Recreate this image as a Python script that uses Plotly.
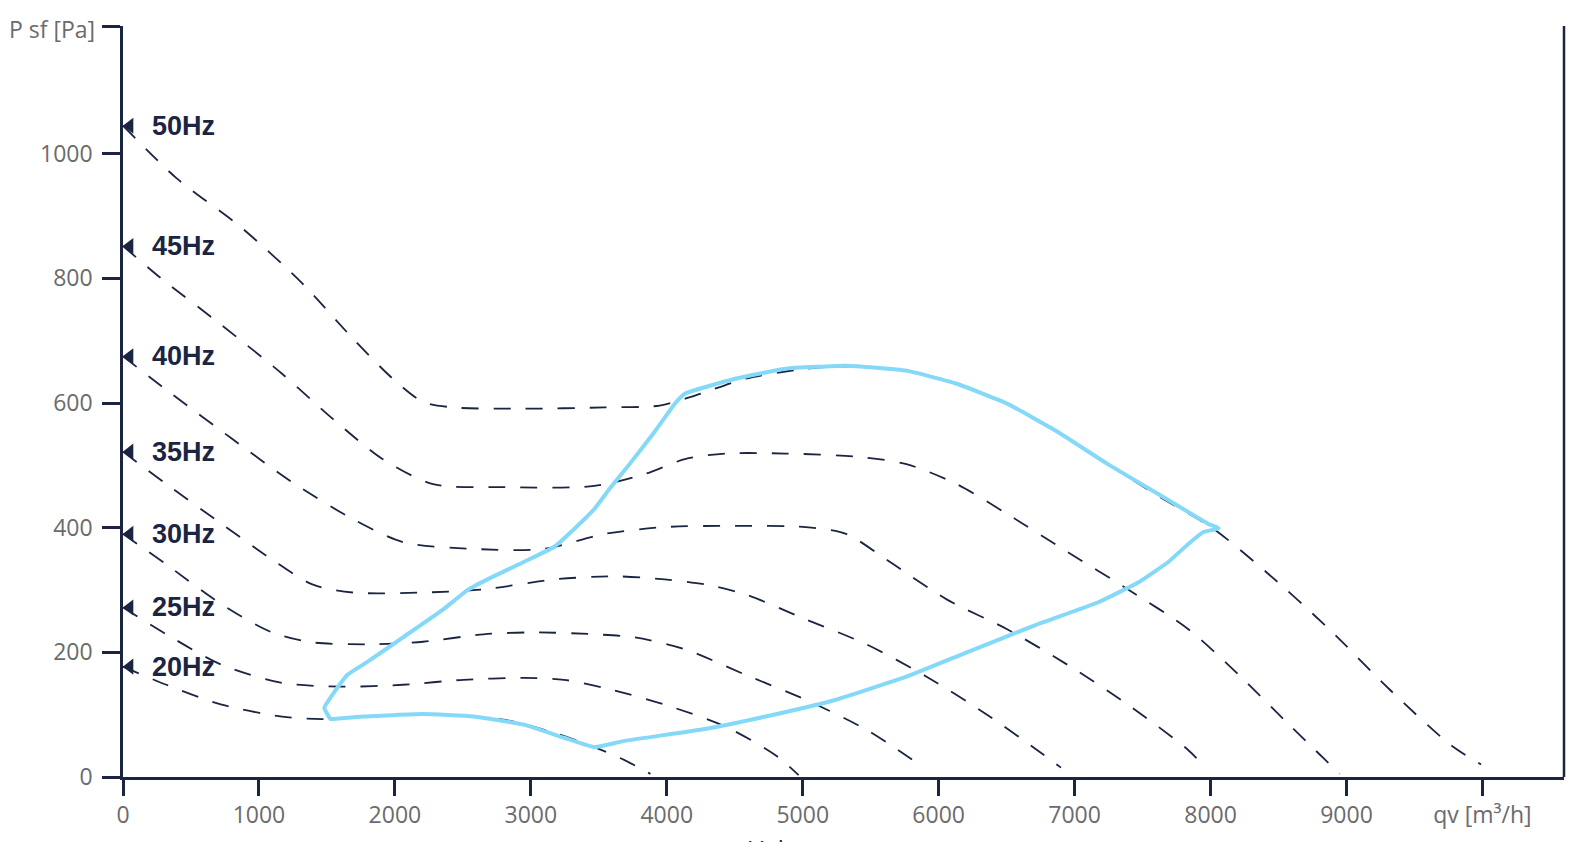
import plotly.graph_objects as go

NAVY = "#1b2541"
BLUE = "#84d9f9"
GREY = "#6b6b6b"

# Kennlinien je Frequenz (qv in m3/h, P sf in Pa)
freqs = ["50Hz", "45Hz", "40Hz", "35Hz", "30Hz", "25Hz", "20Hz"]
start_p = [1045, 852, 675, 522, 390, 272, 177]

qv_50 = [0, 393, 874, 1319, 1689, 1985, 2207, 2430, 2948, 3541, 3948, 4207, 4578, 5022, 5393, 5763, 6133, 6504, 6874, 7244, 7615, 8022, 8430, 8874, 9319, 9763, 9990]
p_50 = [1045, 961, 881, 792, 704, 639, 602, 593, 591, 593, 596, 612, 639, 655, 659, 652, 631, 599, 554, 502, 451, 398, 325, 237, 140, 52, 20]

qv_45 = [0, 281, 726, 1170, 1541, 1911, 2281, 2800, 3467, 3837, 4133, 4430, 4874, 5393, 5763, 6133, 6504, 6948, 7393, 7837, 8207, 8578, 8950]
p_45 = [852, 800, 725, 647, 575, 510, 470, 465, 467, 486, 510, 519, 519, 514, 502, 470, 422, 361, 301, 237, 164, 84, 5]

qv_40 = [0, 356, 800, 1244, 1689, 2059, 2578, 3096, 3541, 3985, 4504, 5022, 5319, 5615, 6059, 6504, 6948, 7393, 7837, 7950]
p_40 = [675, 615, 543, 473, 414, 377, 366, 366, 390, 401, 403, 401, 390, 349, 285, 237, 180, 116, 43, 18]

qv_35 = [0, 319, 726, 1096, 1393, 1689, 2207, 2652, 3170, 3615, 3985, 4281, 4578, 5022, 5467, 5911, 6356, 6726, 6900]
p_35 = [522, 470, 406, 349, 309, 296, 296, 301, 317, 322, 317, 309, 293, 253, 213, 161, 100, 43, 15]

qv_30 = [0, 319, 726, 1096, 1393, 1837, 2207, 2652, 3022, 3467, 3763, 4133, 4578, 5022, 5467, 5870]
p_30 = [390, 341, 277, 232, 216, 213, 217, 229, 232, 229, 224, 205, 164, 124, 76, 18]

qv_25 = [0, 319, 726, 1170, 1615, 2059, 2504, 2948, 3244, 3541, 3985, 4430, 4800, 4970]
p_25 = [272, 229, 180, 151, 145, 148, 156, 159, 156, 143, 116, 81, 35, 3]

qv_20 = [0, 319, 726, 1170, 1467, 1985, 2356, 2800, 3170, 3467, 3689, 3880]
p_20 = [177, 148, 116, 97, 93, 100, 100, 92, 71, 48, 27, 5]

curves = [(qv_50, p_50), (qv_45, p_45), (qv_40, p_40), (qv_35, p_35),
          (qv_30, p_30), (qv_25, p_25), (qv_20, p_20)]

# Arbeitsbereich (geschlossene Kurve)
qv_env = [1541, 1763, 2207, 2578, 2948, 3244, 3467, 3689, 4281, 4726, 5244, 5763, 6207, 6726, 7170, 7467, 7689, 7837, 7948, 8059,
          7985, 7615, 7244, 6874, 6504, 6133, 5763, 5319, 4874, 4504, 4133, 4059, 3911, 3726, 3578, 3467, 3319, 3170, 2948, 2726,
          2541, 2356, 2059, 1800, 1652, 1541, 1481, 1526, 1541]
p_env = [93, 97, 101, 97, 84, 63, 48, 58, 77, 97, 124, 161, 200, 245, 280, 312, 345, 374, 393, 399,
         406, 454, 502, 554, 599, 631, 652, 660, 655, 639, 615, 599, 554, 502, 462, 430, 398, 369, 345, 322,
         301, 269, 224, 185, 164, 132, 111, 93, 93]

x_ticks = [0, 1000, 2000, 3000, 4000, 5000, 6000, 7000, 8000, 9000, 10000]
x_labels = ["0", "1000", "2000", "3000", "4000", "5000", "6000", "7000", "8000", "9000", "qv [m\u00b3/h]"]
y_ticks = [0, 200, 400, 600, 800, 1000, 1205]
y_labels = ["0", "200", "400", "600", "800", "1000", ""]
y_title = "P sf [Pa]"

fig = go.Figure()

for qv, p in curves:
    fig.add_trace(go.Scatter(
        x=qv, y=p, mode="lines", line=dict(color=NAVY, width=1.8, dash="17px,15px", shape="spline", smoothing=0.8),
        showlegend=False, hoverinfo="skip",
    ))

fig.add_trace(go.Scatter(
    x=qv_env, y=p_env, mode="lines", line=dict(color=BLUE, width=4, shape="spline", smoothing=0.4),
    showlegend=False,
))

fig.add_trace(go.Scatter(
    x=[50] * len(start_p), y=start_p, mode="markers", cliponaxis=False,
    marker=dict(symbol="triangle-left", size=14, color=NAVY), showlegend=False,
))

for f, p in zip(freqs, start_p):
    fig.add_annotation(x=200, y=p, text=f"<b>{f}</b>", showarrow=False, xanchor="left", yanchor="middle",
                       font=dict(family="Liberation Sans, Arial", size=27, color=NAVY))

# Achsbeschriftung oben an der y-Achse
fig.add_annotation(x=0, xref="paper", y=y_ticks[-1], text=y_title, showarrow=False, xanchor="right", yanchor="middle",
                   xshift=-26, yshift=-3, font=dict(family="Open Sans", size=23, color=GREY))

fig.add_annotation(x=0.492, y=-0.071, xref="paper", yref="paper", text="Volumenstrom", showarrow=False,
                   xanchor="center", yanchor="top", font=dict(family="Open Sans", size=24, color=NAVY))

fig.add_shape(type="line", xref="paper", yref="paper", x0=1, x1=1, y0=0, y1=1, line=dict(color=NAVY, width=2.5))

fig.update_layout(
    width=1586, height=842,
    margin=dict(l=123, r=22, t=26, b=58),
    paper_bgcolor="white", plot_bgcolor="white",
    font=dict(family="Open Sans", size=23, color=GREY),
    xaxis=dict(range=[0, 10600], tickvals=x_ticks, ticktext=x_labels, showgrid=False, zeroline=False,
               showline=True, linecolor=NAVY, linewidth=2.5, ticks="outside", ticklen=16, tickwidth=2.5, tickcolor=NAVY),
    yaxis=dict(range=[0, 1205], tickvals=y_ticks, ticktext=y_labels, showgrid=False, zeroline=False,
               showline=True, linecolor=NAVY, linewidth=2.5, ticks="outside", ticklen=18, tickwidth=2.5, tickcolor=NAVY,
               ticklabelstandoff=5),
)

fig.write_html("out.html", config={"displayModeBar": False}, post_script="document.body.style.margin = '0';")
